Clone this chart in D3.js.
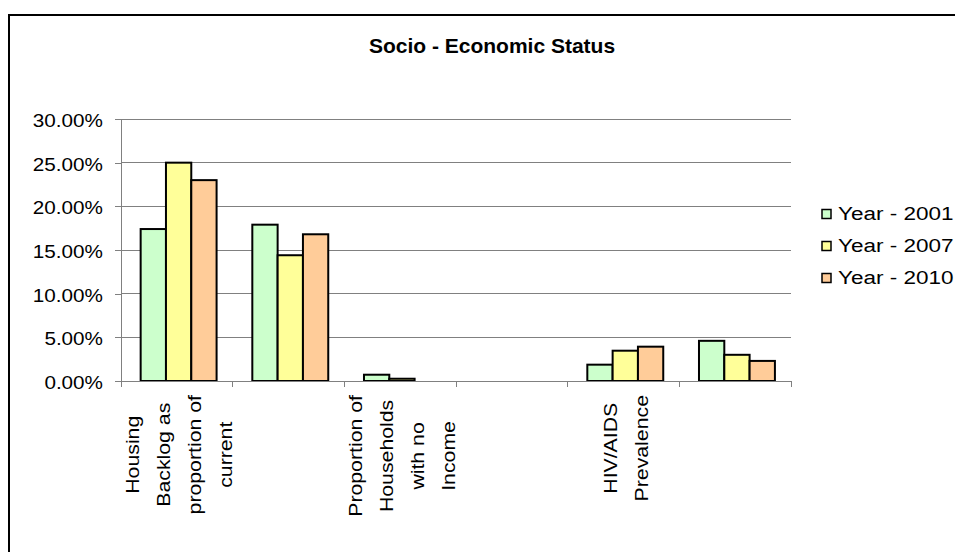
<!DOCTYPE html>
<html>
<head>
<meta charset="utf-8">
<script src="https://cdn.jsdelivr.net/npm/d3@7"></script>
<style>
  html, body { margin: 0; padding: 0; background: #fff; }
  svg { display: block; font-family: "Liberation Sans", Arial, sans-serif; }
</style>
</head>
<body>
<svg id="chart" width="955" height="552"></svg>
<script>
// ---- data ----
const categories = [
  "Housing|Backlog as|proportion of|current",
  "",
  "Proportion of|Households|with no|Income",
  "",
  "HIV/AIDS|Prevalence",
  ""
];
const seriesNames = ["Year - 2001", "Year - 2007", "Year - 2010"];
const year2001 = [0.174, 0.179, 0.0072, 0, 0.0187, 0.046];
const year2007 = [0.250, 0.144, 0.0026, 0, 0.0347, 0.030];
const year2010 = [0.230, 0.168, 0, 0, 0.0393, 0.023];
const seriesValues = [year2001, year2007, year2010];
const seriesColors = ["#CCFFCC", "#FFFF99", "#FFCC99"];
const yTicks = [0, 0.05, 0.10, 0.15, 0.20, 0.25, 0.30];
const chartTitle = "Socio - Economic Status";

// ---- layout ----
const svg = d3.select("#chart");
const pLeft = 121, pRight = 791, pTop = 119, pBottom = 381;

// outer border
svg.append("rect").attr("x", 9).attr("y", 15).attr("width", 960).attr("height", 560)
  .attr("fill", "none").attr("stroke", "#000").attr("stroke-width", 2);

// title
svg.append("text").attr("x", 492).attr("y", 53).attr("text-anchor", "middle")
  .attr("font-weight", "bold").attr("font-size", 21).text(chartTitle);

const x0 = d3.scaleBand().domain(d3.range(categories.length)).range([pLeft, pRight]).padding(0);
const bw = x0.bandwidth();
const x1 = d3.scaleBand().domain(d3.range(seriesNames.length)).range([bw * 0.176, bw * 0.856]).padding(0);
const y = d3.scaleLinear().domain([0, 0.30]).range([pBottom, pTop]);

// gridlines
svg.append("g").selectAll("line").data(yTicks.slice(1)).join("line")
  .attr("x1", pLeft).attr("x2", pRight)
  .attr("y1", d => y(d)).attr("y2", d => y(d))
  .attr("stroke", "#808080").attr("stroke-width", 1).attr("shape-rendering", "crispEdges");

// y axis
const sxTick = 1.15;
const yAxis = svg.append("g").attr("transform", `translate(${pLeft},0)`)
  .call(d3.axisLeft(y).tickValues(yTicks).tickFormat(d3.format(".2%")).tickSize(6).tickPadding(12));
yAxis.select(".domain").attr("stroke", "#808080").attr("shape-rendering", "crispEdges");
yAxis.selectAll(".tick line").attr("stroke", "#808080").attr("shape-rendering", "crispEdges");
yAxis.selectAll(".tick text").attr("font-size", 18).attr("font-family", "Liberation Sans, Arial, sans-serif")
  .attr("fill", "#000").attr("dy", "0.42em")
  .attr("x", -18 / sxTick).attr("transform", `scale(${sxTick},1)`);

// bars
const groups = svg.append("g").selectAll("g").data(categories.map((c, i) => i)).join("g")
  .attr("transform", i => `translate(${x0(i)},0)`);
groups.selectAll("rect").data(i => seriesValues.map((s, k) => ({k, v: s[i]})).filter(d => d.v > 0)).join("rect")
  .attr("x", d => x1(d.k)).attr("width", x1.bandwidth())
  .attr("y", d => y(d.v)).attr("height", d => y(0) - y(d.v))
  .attr("fill", d => seriesColors[d.k]).attr("stroke", "#000").attr("stroke-width", 2);

// x axis (category boundaries)
const xAxisG = svg.append("g");
xAxisG.append("line").attr("x1", pLeft).attr("x2", pRight).attr("y1", pBottom).attr("y2", pBottom)
  .attr("stroke", "#808080").attr("stroke-width", 1).attr("shape-rendering", "crispEdges");
xAxisG.selectAll("line.tk").data(d3.range(categories.length + 1)).join("line").attr("class", "tk")
  .attr("x1", i => pLeft + i * bw).attr("x2", i => pLeft + i * bw)
  .attr("y1", pBottom).attr("y2", pBottom + 6)
  .attr("stroke", "#808080").attr("stroke-width", 1).attr("shape-rendering", "crispEdges");

// category labels (rotated, wrapped)
const lineGap = 31;
categories.forEach((c, i) => {
  if (!c) return;
  const lines = c.split("|");
  const cx = x0(i) + bw / 2 + 2;
  const g = svg.append("g");
  const texts = lines.map((ln, j) => {
    const px = cx + (j - (lines.length - 1) / 2) * lineGap;
    return g.append("text").attr("font-size", 19).attr("text-anchor", "middle")
      .attr("dominant-baseline", "central").text(ln).attr("data-x", px);
  });
  const sLen = 1.12;
  const maxLen = d3.max(texts, t => t.node().getComputedTextLength()) * sLen;
  const cy = 395 + maxLen / 2;
  texts.forEach(t => {
    const px = +t.attr("data-x");
    t.attr("transform", `translate(${px},${cy}) rotate(-90) scale(${sLen},1)`);
  });
});

// legend
const legend = svg.append("g");
seriesNames.forEach((name, k) => {
  const cy = 214 + k * 32;
  legend.append("rect").attr("x", 822).attr("y", cy - 4.5).attr("width", 9).attr("height", 9)
    .attr("fill", seriesColors[k]).attr("stroke", "#000").attr("stroke-width", 1.5);
  legend.append("text").attr("transform", `translate(838,${cy}) scale(1.25,1)`)
    .attr("dy", "0.36em").attr("font-size", 18).text(name);
});
</script>
</body>
</html>
